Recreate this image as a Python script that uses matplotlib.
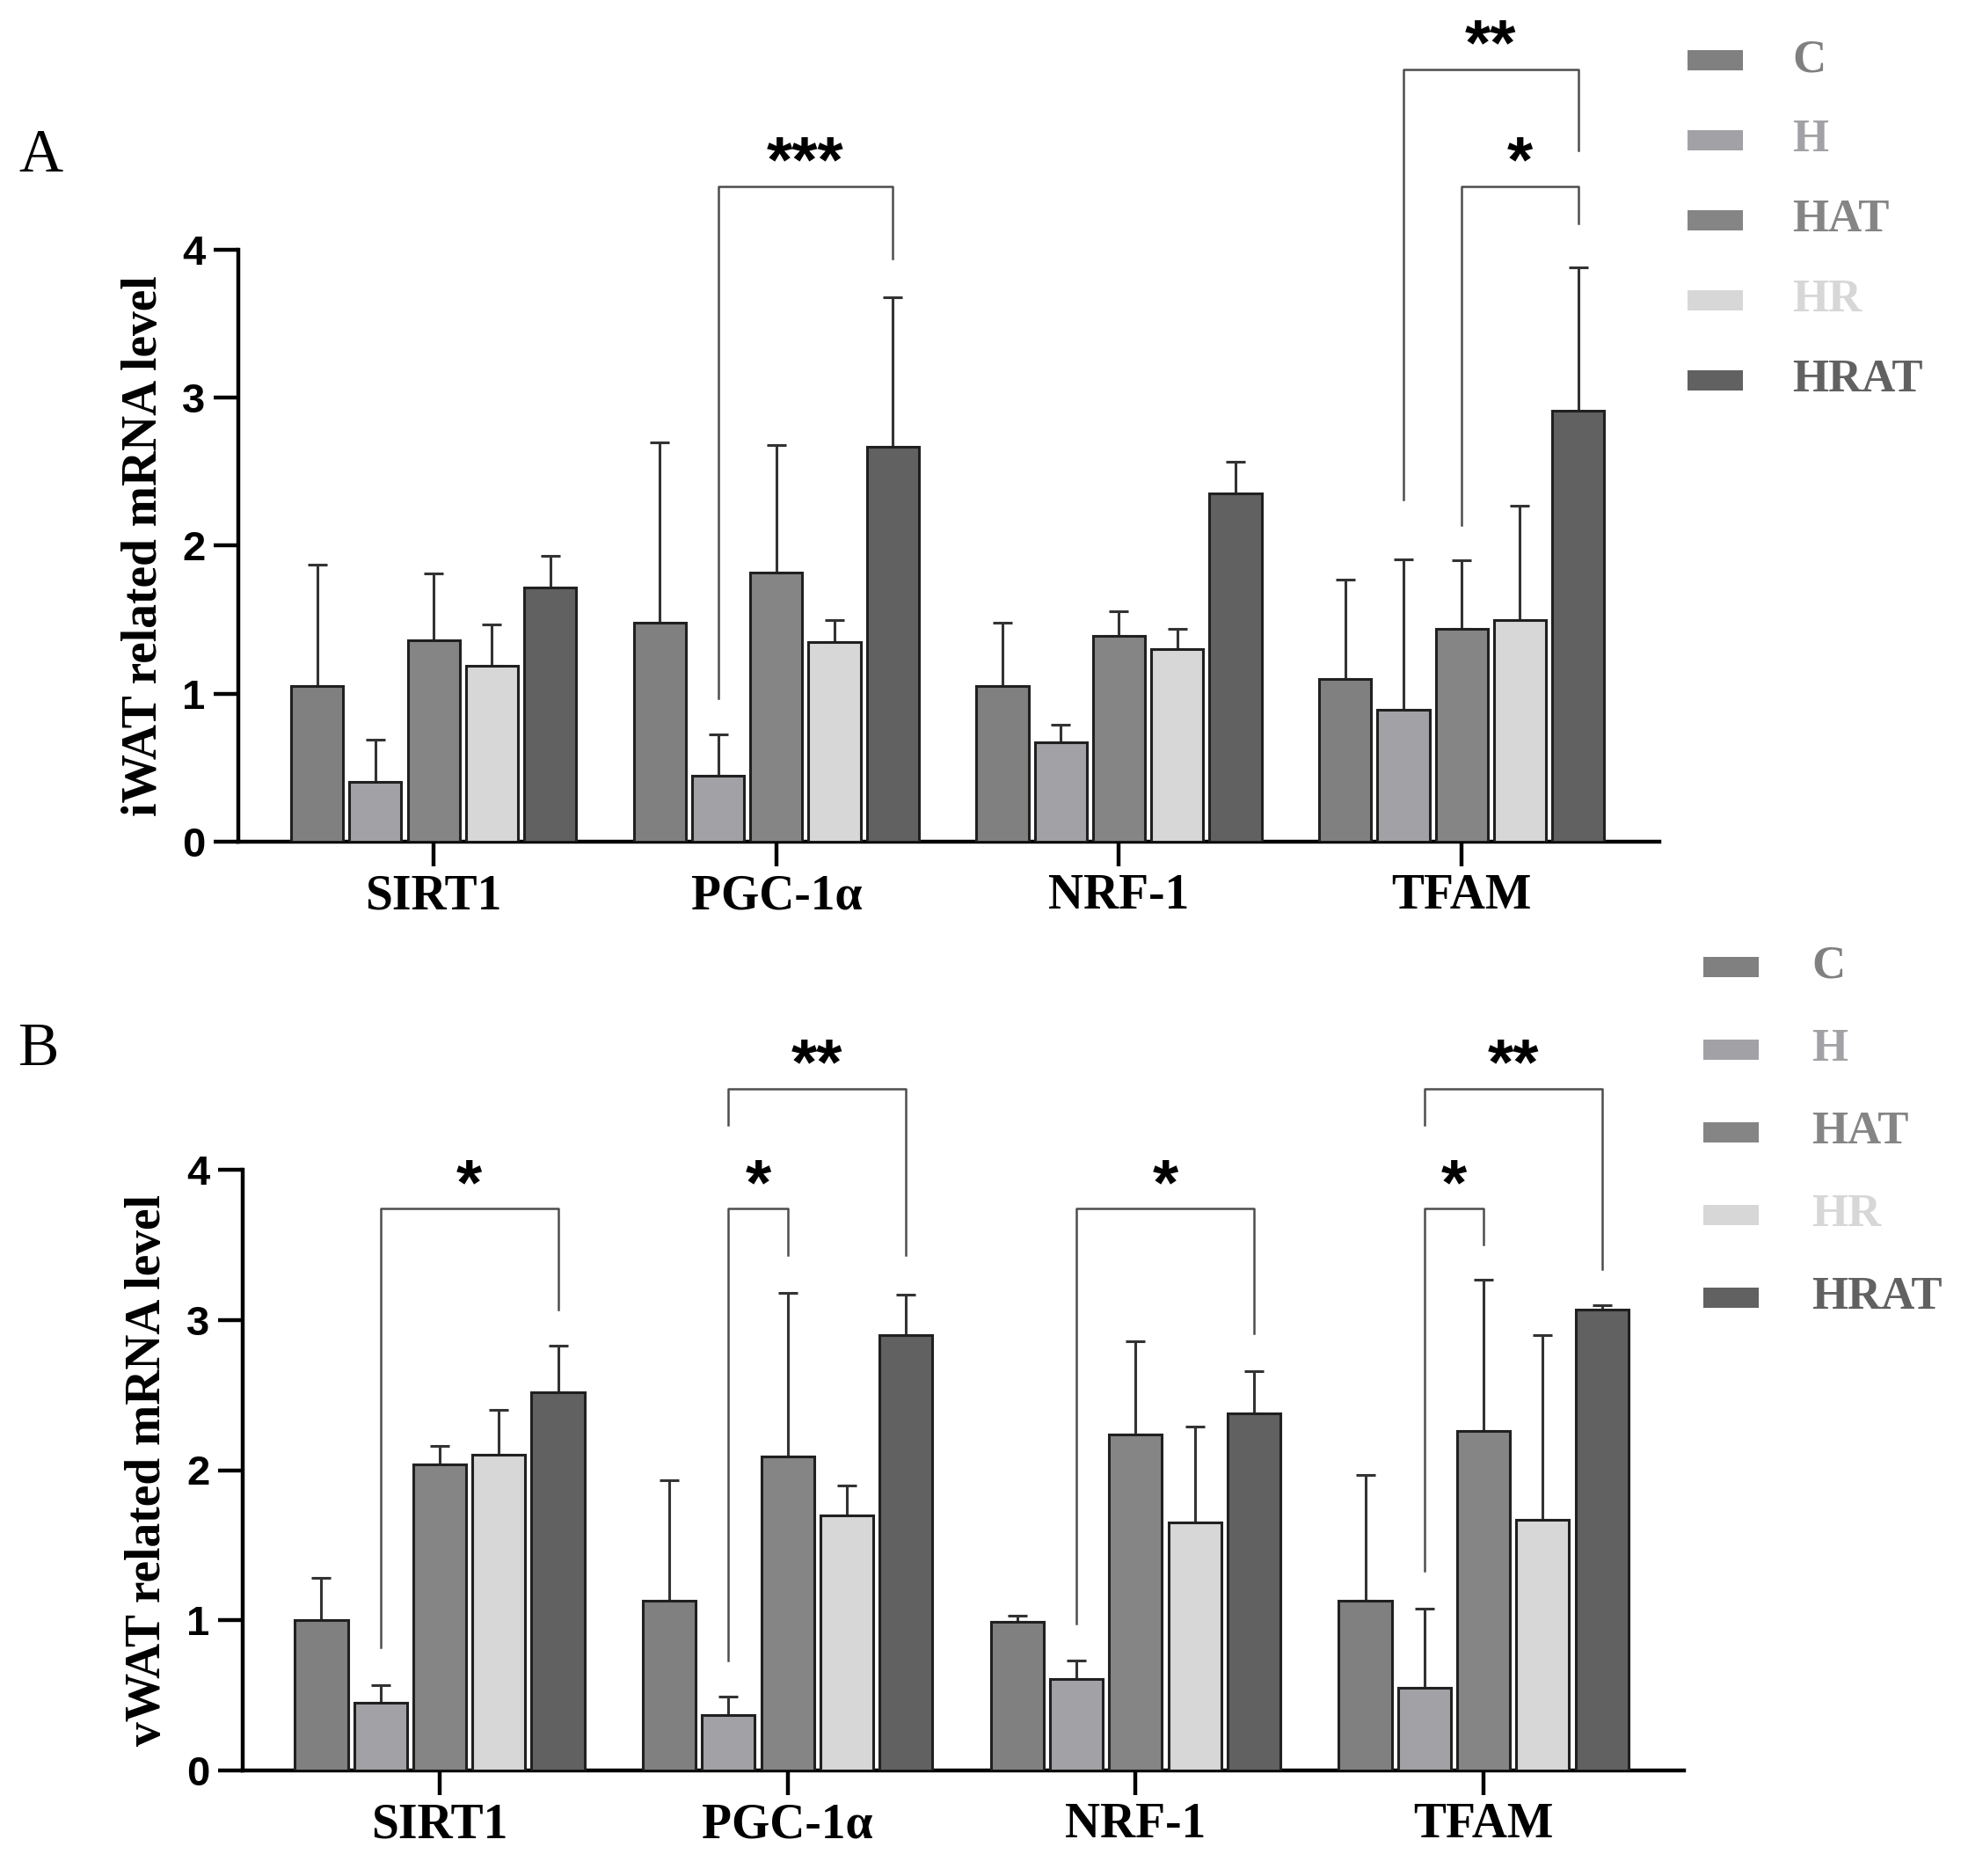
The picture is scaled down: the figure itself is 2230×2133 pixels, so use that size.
import matplotlib
matplotlib.use('Agg')
import matplotlib.pyplot as plt
from matplotlib.patches import Rectangle
import numpy as np

SERIF = ['Liberation Serif', 'DejaVu Serif']
SANS = ['Liberation Sans', 'DejaVu Sans']

# ── data ─────────────────────────────────────────────
genes = ['SIRT1', 'PGC-1α', 'NRF-1', 'TFAM']
groups = ['C', 'H', 'HAT', 'HR', 'HRAT']
colors = ['#808080', '#a2a2a6', '#858585', '#d7d7d7', '#616161']

# iWAT (panel A): mean and SD per group, genes in order
iwat_mean = {
    'C':    [1.05, 1.48, 1.05, 1.10],
    'H':    [0.405, 0.446, 0.67, 0.89],
    'HAT':  [1.36, 1.82, 1.39, 1.44],
    'HR':   [1.19, 1.35, 1.30, 1.50],
    'HRAT': [1.72, 2.67, 2.355, 2.91],
}
iwat_sd = {
    'C':    [0.82, 1.22, 0.43, 0.67],
    'H':    [0.285, 0.28, 0.12, 1.02],
    'HAT':  [0.45, 0.86, 0.17, 0.46],
    'HR':   [0.28, 0.15, 0.14, 0.77],
    'HRAT': [0.21, 1.01, 0.215, 0.97],
}

# vWAT (panel B)
vwat_mean = {
    'C':    [1.00, 1.13, 0.99, 1.13],
    'H':    [0.45, 0.37, 0.61, 0.55],
    'HAT':  [2.04, 2.09, 2.24, 2.26],
    'HR':   [2.10, 1.70, 1.65, 1.67],
    'HRAT': [2.52, 2.90, 2.38, 3.07],
}
vwat_sd = {
    'C':    [0.28, 0.80, 0.04, 0.84],
    'H':    [0.12, 0.12, 0.12, 0.53],
    'HAT':  [0.12, 1.09, 0.62, 1.01],
    'HR':   [0.30, 0.20, 0.64, 1.23],
    'HRAT': [0.31, 0.27, 0.28, 0.03],
}

# significance brackets: (gene, group_a, group_b, top, leg_a_end, leg_b_end, label)
iwat_sig = [
    (1, 1, 4, 4.43, 0.97, 3.94, '***'),
    (3, 1, 4, 5.22, 2.31, 4.67, '**'),
    (3, 2, 4, 4.43, 2.14, 4.18, '*'),
]
vwat_sig = [
    (0, 1, 4, 3.74, 0.82, 3.07, '*'),
    (1, 1, 2, 3.74, 0.73, 3.43, '*'),
    (1, 1, 4, 4.54, 4.30, 3.43, '**'),
    (2, 1, 4, 3.74, 0.98, 2.91, '*'),
    (3, 1, 2, 3.74, 1.33, 3.50, '*'),
    (3, 1, 4, 4.54, 4.30, 3.34, '**'),
]

# ── figure ───────────────────────────────────────────
W, H = 2230, 2133
fig = plt.figure(figsize=(W / 100, H / 100), dpi=100)

STEP = 0.17
BW = 0.152


def px_axes(l, r, y0, y4):
    return fig.add_axes([l / W, 1 - y0 / H, (r - l) / W, (y0 - y4) / H])


def draw_panel(ax, means, sds, sigs, ylabel, xlim):
    x = np.arange(len(genes))
    for j, g in enumerate(groups):
        xs = x + (j - 2) * STEP
        ax.bar(xs, means[g], width=BW, color=colors[j], edgecolor='#202020',
               linewidth=2.2, zorder=3)
        ax.errorbar(xs, means[g], yerr=[np.zeros(len(genes)), sds[g]],
                    fmt='none', ecolor='#333333', elinewidth=2.2,
                    capsize=8, capthick=2.2, zorder=2)

    for gi, a, b, top, ya, yb, lab in sigs:
        xa = gi + (a - 2) * STEP
        xb = gi + (b - 2) * STEP
        ax.plot([xa, xa, xb, xb], [ya, top, top, yb], color='#4d4d4d',
                lw=1.8, clip_on=False, zorder=4)
        ax.text((xa + xb) / 2, top + 0.03, lab, ha='center', va='baseline',
                fontsize=54, fontweight='bold', family=SANS, clip_on=False)

    ax.set_xlim(*xlim)
    ax.set_ylim(0, 4)
    ax.set_yticks([0, 1, 2, 3, 4])
    ax.set_xticks(x)
    ax.set_xticklabels(genes, fontsize=40, fontweight='bold', family=SERIF)
    for t in ax.get_yticklabels():
        t.set_fontsize(34)
        t.set_fontweight('bold')
        t.set_family(SANS)
    ax.tick_params(axis='y', length=20, width=3.2, pad=7, direction='out')
    ax.tick_params(axis='x', length=20, width=3.2, pad=6, direction='out')
    for s in ['top', 'right']:
        ax.spines[s].set_visible(False)
    for s in ['left', 'bottom']:
        ax.spines[s].set_linewidth(3.2)
    ax.set_ylabel(ylabel, fontsize=40, fontweight='bold', family=SERIF,
                  va='center')
    ax.yaxis.set_label_coords(-0.066, 0.5)


def draw_legend(sq_x, txt_x, y_first, y_step):
    for j, g in enumerate(groups):
        yc = y_first + j * y_step
        fig.add_artist(Rectangle((sq_x / W, 1 - (yc + 11.5) / H), 63 / W, 23 / H,
                                 transform=fig.transFigure, facecolor=colors[j],
                                 edgecolor='none'))
        fig.text(txt_x / W, 1 - yc / H, g, color=colors[j], fontsize=38,
                 fontweight='bold', family=SERIF, ha='left', va='center')


axA = px_axes(271, 1887, 957, 284)
draw_panel(axA, iwat_mean, iwat_sd, iwat_sig, 'iWAT related mRNA level',
           (-0.570, 3.577))
axB = px_axes(276, 1915, 2013, 1330)
draw_panel(axB, vwat_mean, vwat_sd, vwat_sig, 'vWAT related mRNA level',
           (-0.566, 3.576))

draw_legend(1919, 2038, 68, 91)
draw_legend(1937, 2060, 1099, 94)

fig.text(21 / W, 1 - 178 / H, 'A', fontsize=50, family=SERIF, ha='left', va='center')
fig.text(21 / W, 1 - 1194 / H, 'B', fontsize=50, family=SERIF, ha='left', va='center')

fig.savefig('out.png', dpi=100, facecolor='white')
